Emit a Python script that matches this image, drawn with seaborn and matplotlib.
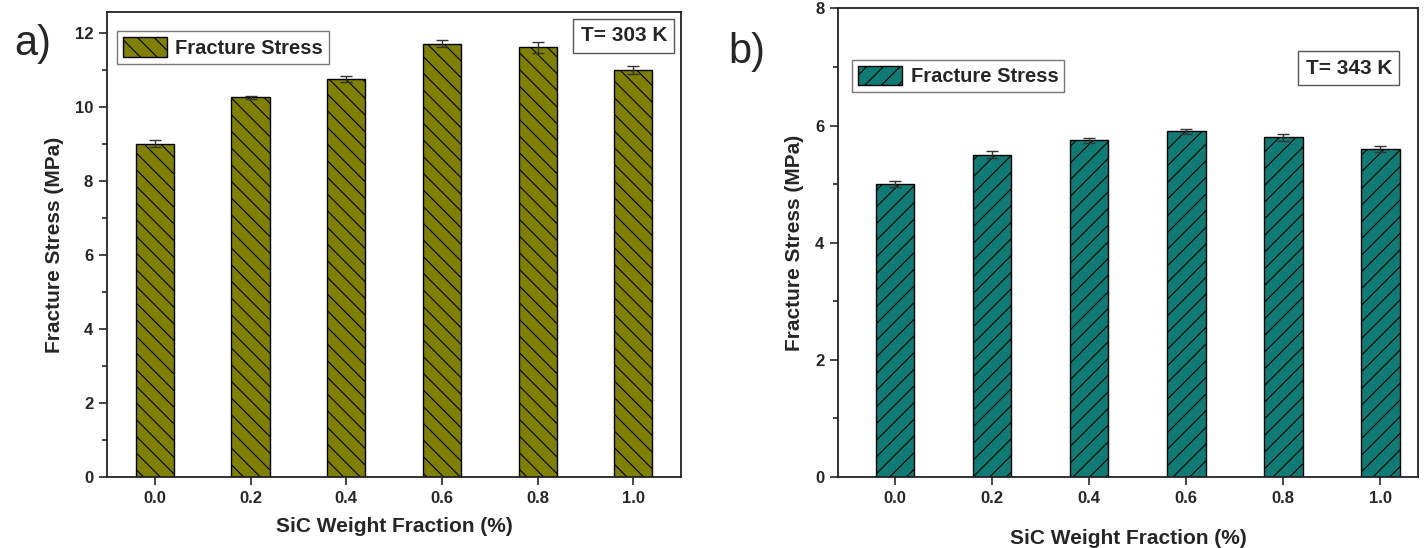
import numpy as np
import pandas as pd
import matplotlib
matplotlib.use('Agg')
import matplotlib.pyplot as plt
import seaborn as sns
from matplotlib.patches import Patch
from matplotlib.ticker import MultipleLocator, AutoMinorLocator

# SiC weight fraction (%) and measured fracture stress (MPa)
sic_fraction = [0.0, 0.2, 0.4, 0.6, 0.8, 1.0]
stress_303 = [9.0, 10.25, 10.75, 11.7, 11.6, 11.0]
err_303 = [0.10, 0.04, 0.09, 0.10, 0.15, 0.11]
stress_343 = [5.0, 5.5, 5.75, 5.9, 5.8, 5.6]
err_343 = [0.05, 0.06, 0.04, 0.04, 0.06, 0.05]

sns.set_style('ticks')
plt.rcParams['font.family'] = ['Liberation Sans', 'DejaVu Sans']
plt.rcParams['hatch.linewidth'] = 0.8

fig = plt.figure(figsize=(14.28, 5.48), dpi=100)
ax_a = fig.add_axes([0.075, 0.1296, 0.402, 0.848])
ax_b = fig.add_axes([0.587, 0.1296, 0.406, 0.855])

# axis, values, errors, colour, hatch, temperature, ymax, tag, legend anchor, T-box anchor, xlim, xlabel pad
panels = [
    (ax_a, stress_303, err_303, '#7f7f00', '\\\\', 'T= 303 K', 12.55, 'a)',
     (0.0174, 0.959), (0.9756, 0.970), (-0.1, 1.1), 8),
    (ax_b, stress_343, err_343, '#0f7b74', '//', 'T= 343 K', 8.0, 'b)',
     (0.024, 0.891), (0.955, 0.893), (-0.117, 1.078), 17),
]

for ax, vals, errs, col, hatch, temp, ymax, tag, leg_xy, t_xy, xlim, xpad in panels:
    df = pd.DataFrame({'frac': sic_fraction, 'stress': vals})
    sns.barplot(data=df, x='frac', y='stress', native_scale=True, width=0.4,
                color=col, edgecolor='black', linewidth=1.0, hatch=hatch,
                errorbar=None, ax=ax, saturation=1)
    ax.errorbar(sic_fraction, vals, yerr=errs, fmt='none', ecolor='#333333',
                elinewidth=1.0, capsize=4.5, capthick=1.0)

    ax.set_xlim(*xlim)
    ax.set_ylim(0, ymax)
    ax.set_xticks(sic_fraction)
    ax.set_xticklabels([f'{v:.1f}' for v in sic_fraction])
    ax.yaxis.set_major_locator(MultipleLocator(2))
    ax.yaxis.set_minor_locator(AutoMinorLocator(2))
    ax.tick_params(axis='both', which='major', direction='out', length=6, width=1.2,
                   labelsize=12, pad=4)
    ax.tick_params(axis='y', which='minor', direction='out', length=3.5, width=1.2)
    for lbl in ax.get_xticklabels() + ax.get_yticklabels():
        lbl.set_fontweight('bold')
    for sp in ax.spines.values():
        sp.set_linewidth(1.3)
        sp.set_color('#222222')

    ax.set_xlabel('SiC Weight Fraction (%)', fontsize=15, fontweight='bold', labelpad=xpad)
    ax.set_ylabel('Fracture Stress (MPa)', fontsize=15, fontweight='bold', labelpad=8)

    handle = Patch(facecolor=col, edgecolor='black', hatch=hatch, linewidth=1.0)
    leg = ax.legend([handle], ['Fracture Stress'], loc='upper left',
                    bbox_to_anchor=leg_xy, borderaxespad=0, fancybox=False,
                    edgecolor='#555555', prop={'size': 14.5, 'weight': 'bold'},
                    handlelength=2.2, handleheight=1.1, borderpad=0.3,
                    handletextpad=0.4)
    leg.get_frame().set_linewidth(1.0)
    ax.text(t_xy[0], t_xy[1], temp, transform=ax.transAxes, ha='right', va='top',
            fontsize=15, fontweight='bold',
            bbox=dict(boxstyle='square,pad=0.35', fc='white', ec='#555555', lw=1.0))

fig.text(0.010, 0.92, 'a)', fontsize=30, ha='left', va='center')
fig.text(0.510, 0.905, 'b)', fontsize=30, ha='left', va='center')

fig.savefig('out.png', dpi=100)
